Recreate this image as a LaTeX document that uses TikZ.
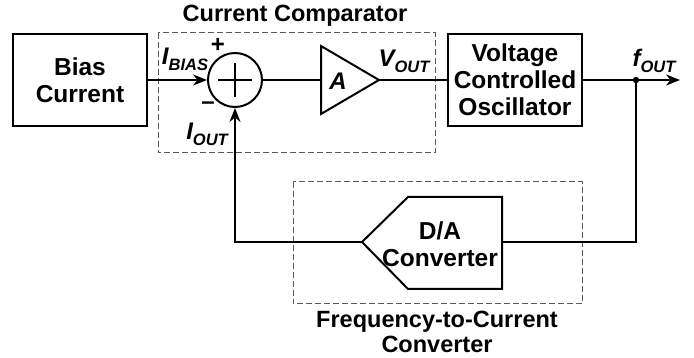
\documentclass[tikz,border=0pt]{standalone}
\usepackage{fontspec}
\setmainfont{Liberation Sans}
\usetikzlibrary{arrows.meta}
\begin{document}
\begin{tikzpicture}[x=1pt,y=-1pt,
  wire/.style={line width=2pt,line cap=butt},
  arr/.style={wire,-{Stealth[length=14pt,width=11pt]}},
  blk/.style={draw,line width=2pt,rectangle,inner sep=0pt,align=center,
    font=\fontsize{24.5}{27}\selectfont\bfseries},
  grp/.style={draw=black!65,line width=1pt,dash pattern=on 6pt off 3pt},
  ttl/.style={font=\fontsize{23.5}{26}\selectfont\bfseries,align=center,inner sep=0pt},
  lbl/.style={font=\fontsize{24}{26}\selectfont\bfseries\itshape,inner sep=0pt},
  sgn/.style={font=\fontsize{24}{26}\selectfont\bfseries,inner sep=0pt}]
\newcommand{\sbs}[1]{\raisebox{-0.45ex}{\fontsize{16.5}{16.5}\selectfont\bfseries\itshape #1}}
\useasboundingbox (0,0) rectangle (694,358);
% groups
\draw[grp] (158,33) rectangle (435,153);
\draw[grp] (293,182) rectangle (582,304);
% blocks
\node[blk,minimum width=134pt,minimum height=92pt] (bias) at (80,80) {Bias\\Current};
\node[draw,circle,line width=2pt,minimum size=54pt,inner sep=0pt] (sum) at (235,80) {};
\draw[line width=1.3pt] ([xshift=-17pt]sum.center) -- ([xshift=17pt]sum.center)
  ([yshift=-17pt]sum.center) -- ([yshift=17pt]sum.center);
\coordinate (ampin) at (321,80);
\coordinate (ampout) at (379,80);
\draw[wire,line join=miter] (321,46) -- (ampout) -- (321,114) -- cycle;
\node[lbl] (A) at (338,81) {A};
\node[blk,minimum width=134pt,minimum height=92pt] (vco) at (515,80) {Voltage\\Controlled\\Oscillator};
\coordinate (dain) at (502,242);
\coordinate (daout) at (362,242);
\draw[wire,line join=miter] (daout) -- (408,197) -- (502,197) -- (502,289) -- (408,289) -- cycle;
\node[blk,draw=none] (da) at (440,244) {D/A\\Converter};
\coordinate (tap) at (636,80);
\coordinate (out) at (680,80);
\coordinate (br) at (636,242);
\coordinate (bl) at (235,242);
% connectors
\draw[arr] (bias.east) -- (sum.west);
\draw[wire] (sum.east) -- (ampin);
\draw[wire] (ampout) -- (vco.west);
\draw[arr] (vco.east) -- (out);
\draw[wire,line join=miter] (tap) -- (br) -- (dain);
\draw[arr,line join=miter] (daout) -- (bl) -- (sum.south);
\fill (tap) circle (3.2pt);
% labels
\node[ttl] (t1) at (295,16) {Current Comparator};
\node[ttl] (t2a) at (437,322) {Frequency-to-Current};
\node[ttl] (t2b) at (437,344) {Converter};
\node[lbl] (ib) at (185,59) {I\sbs{BIAS}};
\node[lbl] (io) at (207,134) {I\sbs{OUT}};
\node[lbl] (vo) at (404,61) {V\sbs{OUT}};
\node[lbl] (fo) at (654,61) {f\sbs{OUT}};
\node[sgn] (p) at (218,45) {+};
\node[sgn] (m) at (208,106) {\textendash};
\end{tikzpicture}
\end{document}
